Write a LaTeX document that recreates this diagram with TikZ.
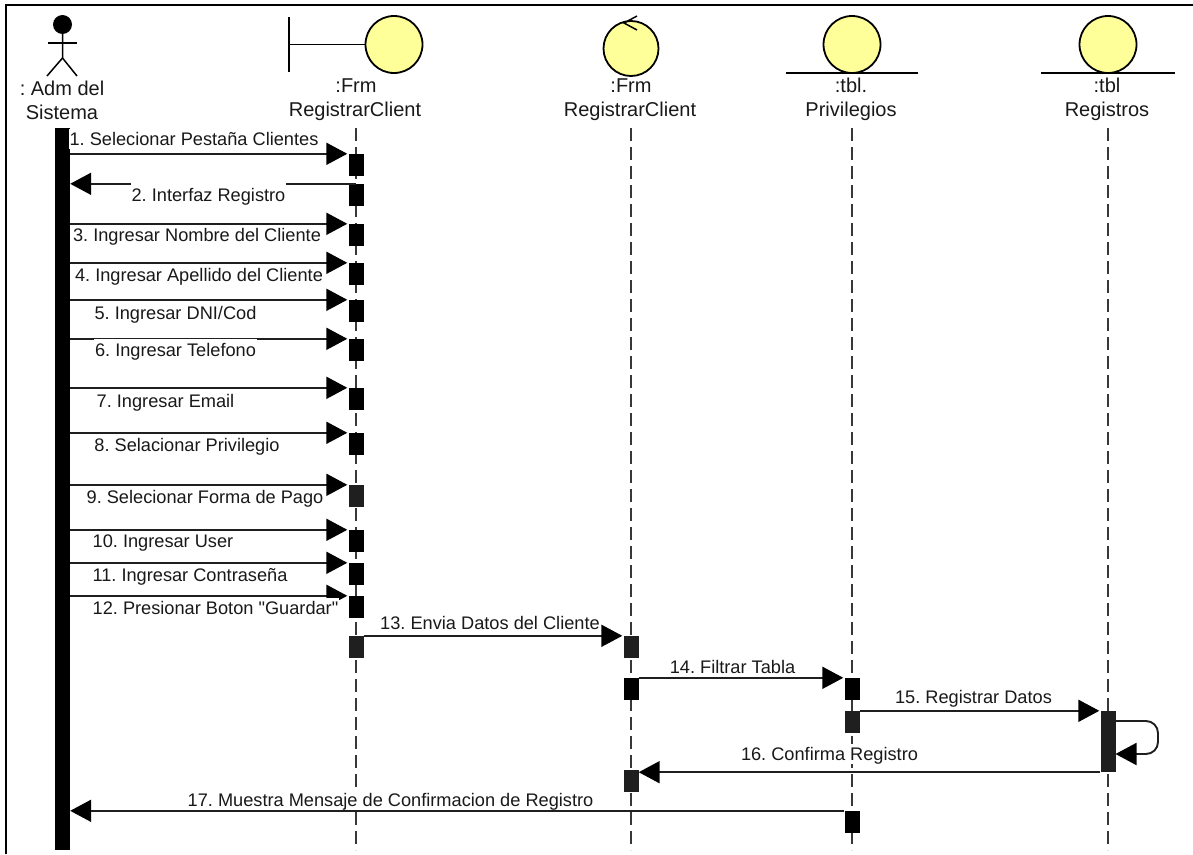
\documentclass[tikz,border=0pt]{standalone}
\usepackage{fontspec}
\setmainfont{Liberation Sans}[Ligatures=TeXOff]
\usepackage{xcolor}
\definecolor{robustfill}{HTML}{FFFF99}
\usetikzlibrary{arrows.meta}
\usetikzlibrary{positioning}

\tikzset{
    headtext/.style={font=\fontsize{20}{24}\selectfont, text=black!90, inner sep=0pt},
    msgtext/.style={font=\fontsize{18.2}{22}\selectfont, text=black!90, fill=white, inner sep=1pt, text height=15.5pt, text depth=2.5pt},
    msg/.style={draw=black!88, line width=1.9pt, -{Triangle[length=21pt,width=22pt,fill=black,color=black]}, shorten >=1pt},
    msgback/.style={msg, shorten >=0pt},
    lifeline/.style={draw=black!78, line width=2pt, dash pattern=on 13pt off 6pt},
    act/.style={fill=black, draw=none, minimum width=15pt, minimum height=22pt, inner sep=0pt},
    actsoft/.style={act, fill=black!88},
    robust/.style={draw=black, line width=1.8pt, fill=robustfill},
}

\begin{document}
\begin{tikzpicture}[x=1pt, y=-1pt]
    \frenchspacing
    \useasboundingbox (0,0) rectangle (1193,854);
    \draw[line width=2pt] (6,854) -- (6,5) -- (1193,5);

    % actor
    \node[circle, fill=black, minimum size=19pt, inner sep=0pt] (head) at (62.5,24.5) {};
    \coordinate (armL) at (48,43);
    \coordinate (armR) at (77,43);
    \coordinate (hip) at (62.5,58);
    \coordinate (footL) at (47,76);
    \coordinate (footR) at (77,76);
    \draw[line width=1.5pt] (armL) -- (armR);
    \draw[line width=1.5pt] (head) -- (hip) -- (footL);
    \draw[line width=1.5pt] (hip) -- (footR);
    \node[headtext] (admA) at (62,88) {: Adm del};
    \node[headtext] (admB) at (62,112) {Sistema};

    % boundary
    \node[circle, robust, minimum size=57pt, inner sep=0pt] (frm) at (394,44.5) {};
    \coordinate (bndT) at (289,17);
    \coordinate (bndB) at (289,72);
    \coordinate (bndM) at (289,44.5);
    \draw[line width=1.8pt] (bndT) -- (bndB);
    \draw[line width=1.8pt] (bndM) -- (frm);
    \node[headtext] (frmA) at (356,85.5) {:Frm};
    \node[headtext] (frmB) at (355,111.5) {RegistrarClient};

    % control
    \node[circle, robust, minimum size=55pt, inner sep=0pt] (ctl) at (631,48.5) {};
    \coordinate (ctlA) at (637,16);
    \coordinate (ctlB) at (624,23);
    \coordinate (ctlC) at (637,30);
    \draw[line width=1.5pt] (ctlA) -- (ctlB) -- (ctlC);
    \node[headtext] (ctlT) at (631,85.5) {:Frm};
    \node[headtext] (ctlU) at (630,111.5) {RegistrarClient};

    % entities
    \node[circle, robust, minimum size=57pt, inner sep=0pt] (priv) at (852,44.5) {};
    \coordinate (privL) at (786,73);
    \coordinate (privR) at (918,73);
    \draw[line width=1.8pt] (privL) -- (privR);
    \node[headtext] (privT) at (851,85.5) {:tbl.};
    \node[headtext] (privU) at (851,111.5) {Privilegios};

    \node[circle, robust, minimum size=57pt, inner sep=0pt] (reg) at (1108,44.5) {};
    \coordinate (regL) at (1041,73);
    \coordinate (regR) at (1175,73);
    \draw[line width=1.8pt] (regL) -- (regR);
    \node[headtext] (regT) at (1107,85.5) {:tbl};
    \node[headtext] (regU) at (1107,111.5) {Registros};

    % lifelines
    \coordinate (lifeA) at (356,128);
    \coordinate (lifeAe) at (356,850);
    \coordinate (lifeB) at (631,128);
    \coordinate (lifeBe) at (631,850);
    \coordinate (lifeC) at (852,128);
    \coordinate (lifeCe) at (852,850);
    \coordinate (lifeD) at (1108,128);
    \coordinate (lifeDe) at (1108,850);
    \draw[lifeline] (lifeA) -- (lifeAe);
    \draw[lifeline] (lifeB) -- (lifeBe);
    \draw[lifeline] (lifeC) -- (lifeCe);
    \draw[lifeline] (lifeD) -- (lifeDe);

    % activations
    \node[fill=black, minimum width=15pt, minimum height=722pt, inner sep=0pt] (bar) at (62.5,489) {};
    \node[act] (a1) at (356,165) {};
    \node[act] (a2) at (356,195) {};
    \node[act] (a3) at (356,235) {};
    \node[act] (a4) at (356,274) {};
    \node[act] (a5) at (356,311) {};
    \node[act] (a6) at (356,350) {};
    \node[act] (a7) at (356,399) {};
    \node[act] (a8) at (356,444) {};
    \node[actsoft] (a9) at (356,496) {};
    \node[act] (a10) at (356,541) {};
    \node[act] (a11) at (356,574) {};
    \node[act] (a12) at (356,607) {};
    \node[actsoft] (a13) at (356,647) {};
    \node[actsoft] (b13) at (631,647) {};
    \node[act] (b14) at (631,689) {};
    \node[act] (c14) at (852,689) {};
    \node[actsoft] (c15) at (852,722) {};
    \node[actsoft, minimum height=61pt] (d15) at (1108,741.5) {};
    \node[actsoft] (b16) at (631,781) {};
    \node[act] (c17) at (852,822) {};

    % messages
    \draw[msg] (bar.east |- a1.north) -- (a1.north west);
    \draw[msgback] (a2.north) -- (bar.east |- a2.north);
    \draw[msg] (bar.east |- a3.north) -- (a3.north west);
    \draw[msg] (bar.east |- a4.north) -- (a4.north west);
    \draw[msg] (bar.east |- a5.north) -- (a5.north west);
    \draw[msg] (bar.east |- a6.north) -- (a6.north west);
    \draw[msg] (bar.east |- a7.north) -- (a7.north west);
    \draw[msg] (bar.east |- a8.north) -- (a8.north west);
    \draw[msg] (bar.east |- a9.north) -- (a9.north west);
    \draw[msg] (bar.east |- a10.north) -- (a10.north west);
    \draw[msg] (bar.east |- a11.north) -- (a11.north west);
    \draw[msg] (bar.east |- a12.north) -- (a12.north west);
    \draw[msg] (a13.north east) -- (b13.north west);
    \draw[msg] (b14.north east) -- (c14.north west);
    \draw[msg] (c15.north east) -- (d15.north west);
    \coordinate (selfA) at (1115.5,721);
    \coordinate (selfB) at (1158,721);
    \coordinate (selfC) at (1158,754);
    \coordinate (selfD) at (1115.5,754);
    \draw[msgback, rounded corners=12pt] (selfA) -- (selfB) -- (selfC) -- (selfD);
    \draw[msgback] (d15.south west) -- (b16.east |- d15.south);
    \draw[msgback] (c17.north west) -- (bar.east |- c17.north);

    % labels
    \node[msgtext] (m1) at (194,139) {1. Selecionar Pestaña Clientes};
    \node[msgtext, text height=19.5pt] (m2) at (208.5,193) {2. Interfaz Registro};
    \node[msgtext] (m3) at (197,235) {3. Ingresar Nombre del Cliente};
    \node[msgtext] (m4) at (199,275) {4. Ingresar Apellido del Cliente};
    \node[msgtext] (m5) at (175.5,313) {5. Ingresar DNI/Cod};
    \node[msgtext, inner ysep=2pt] (m6) at (175.5,350) {6. Ingresar Telefono};
    \node[msgtext, inner ysep=3pt] (m7) at (165.5,401) {7. Ingresar Email};
    \node[msgtext] (m8) at (187,445) {8. Selacionar Privilegio};
    \node[msgtext] (m9) at (205,497) {9. Selecionar Forma de Pago};
    \node[msgtext] (m10) at (163,541) {10. Ingresar User};
    \node[msgtext] (m11) at (190,575) {11. Ingresar Contraseña};
    \node[msgtext] (m12) at (215.5,608) {12. Presionar Boton "Guardar"};
    \node[msgtext] (m13) at (490,623) {13. Envia Datos del Cliente};
    \node[msgtext] (m14) at (732.5,666.5) {14. Filtrar Tabla};
    \node[msgtext] (m15) at (973.5,697) {15. Registrar Datos};
    \node[msgtext] (m16) at (829.5,754) {16. Confirma Registro};
    \node[msgtext] (m17) at (390.5,800) {17. Muestra Mensaje de Confirmacion de Registro};
\end{tikzpicture}
\end{document}
